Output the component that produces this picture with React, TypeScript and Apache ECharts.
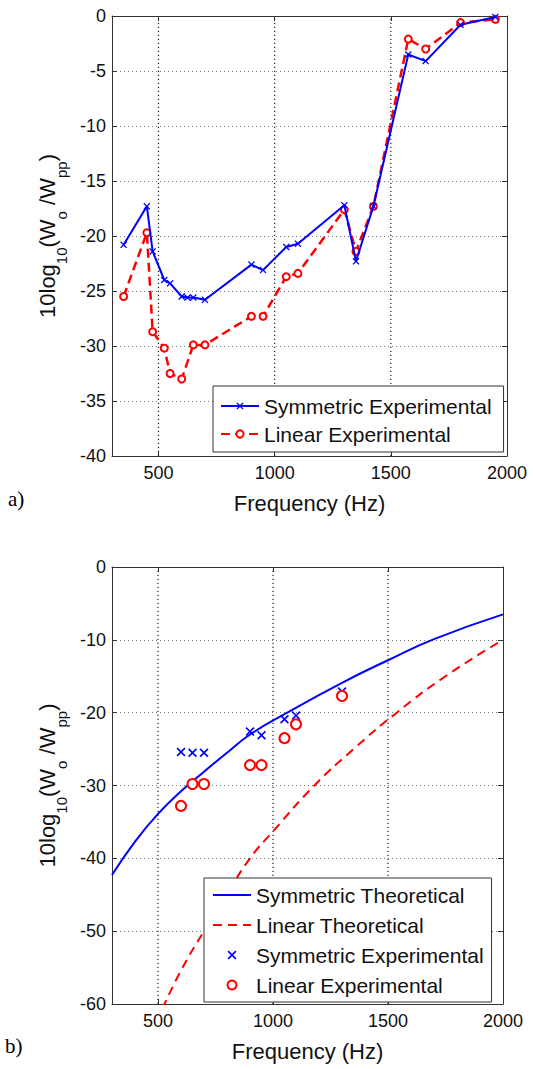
import React, { useEffect, useRef } from "react";
import * as echarts from "echarts";

// ---------- data ----------
const xTicks = [500, 1000, 1500, 2000];
const xGrid = [500, 1000, 1500];

// a) experimental curves
const topFreqSym = [350, 450, 475, 525, 550, 600, 625, 650, 700, 900, 950, 1050, 1100, 1300, 1350, 1425, 1575, 1650, 1800, 1950];
const topSym = [-20.8, -17.3, -21.4, -24.0, -24.3, -25.5, -25.6, -25.6, -25.8, -22.6, -23.1, -21.0, -20.7, -17.2, -22.3, -17.3, -3.5, -4.1, -0.8, -0.1];
const topFreqLin = [350, 450, 475, 525, 550, 600, 650, 700, 900, 950, 1050, 1100, 1300, 1350, 1425, 1575, 1650, 1800, 1950];
const topLin = [-25.5, -19.7, -28.7, -30.2, -32.5, -33.0, -29.9, -29.9, -27.3, -27.3, -23.7, -23.4, -17.6, -21.4, -17.3, -2.1, -3.0, -0.6, -0.3];

// b) theory vs experiment
const expFreq = [600, 650, 700, 900, 950, 1050, 1100, 1300];
const symExp = [-25.4, -25.5, -25.5, -22.6, -23.1, -20.9, -20.4, -17.1];
const linExp = [-32.8, -29.8, -29.8, -27.2, -27.2, -23.5, -21.6, -17.7];
const symTheoFreq = [300, 400, 500, 600, 700, 800, 900, 1050, 1300, 1500, 1700, 2000];
const symTheo = [-42.3, -37.7, -33.9, -30.8, -28.1, -25.5, -23.0, -20.2, -15.9, -12.8, -9.9, -6.5];
const linTheoFreq = [520, 600, 700, 800, 900, 1000, 1180, 1350, 1538, 1750, 2000];
const linTheo = [-60.6, -55.4, -50.0, -44.9, -40.0, -36.3, -30.0, -25.0, -20.0, -15.0, -10.0];

// ---------- styles ----------
const FONT = '"Liberation Sans", Arial, Helvetica, sans-serif';
const BLUE = "#0000ff";
const RED = "#ff0000";
const X_CROSS =
  "path://M0,1.3L1.3,0L5,3.7L8.7,0L10,1.3L6.3,5L10,8.7L8.7,10L5,6.3L1.3,10L0,8.7L3.7,5Z";
const axisLineStyle = { color: "#333", width: 1 };
const gridLineStyle = { color: "#777", width: 1, type: [1, 3] };
const vGridLineStyle = { color: "#222", width: 1.2, type: [1.2, 2.8] };
const gridLine = { show: true, lineStyle: gridLineStyle };
const tickLabel = { fontSize: 18, color: "#111", fontFamily: FONT };

const zip = (xs: number[], ys: number[]) => xs.map((x, i) => [x, ys[i]]);

const yName = "{m|10log}{s|10}{m|(W}{s|o}{m| /W}{s|pp}{m|)}";
const yNameStyle = {
  color: "#111",
  fontFamily: FONT,
  rich: {
    m: { fontSize: 22, lineHeight: 22, verticalAlign: "top", fontFamily: FONT, color: "#111" },
    s: { fontSize: 15, lineHeight: 33, verticalAlign: "bottom", fontFamily: FONT, color: "#111" },
  },
};

function axes(yMin: number, yInterval: number) {
  return {
    xAxis: [
      {
        type: "value",
        min: 300,
        max: 2000,
        position: "bottom",
        axisLine: { show: true, onZero: false, lineStyle: axisLineStyle },
        axisTick: { show: true, inside: true, length: 5, customValues: xTicks, lineStyle: axisLineStyle },
        axisLabel: { customValues: xTicks, margin: 8, formatter: (v: number) => String(v), ...tickLabel },
        splitLine: { show: false },
        name: "Frequency (Hz)",
        nameLocation: "middle",
        nameGap: 36,
        nameTextStyle: { fontSize: 22, color: "#111", fontFamily: FONT },
      },
      {
        type: "value",
        min: 300,
        max: 2000,
        position: "top",
        axisLine: { show: true, onZero: false, lineStyle: axisLineStyle },
        axisTick: { show: true, inside: true, length: 5, customValues: xTicks, lineStyle: axisLineStyle },
        axisLabel: { show: false },
        splitLine: { show: false },
      },
    ],
    yAxis: [
      {
        type: "value",
        min: yMin,
        max: 0,
        interval: yInterval,
        position: "left",
        axisLine: { show: true, onZero: false, lineStyle: axisLineStyle },
        axisTick: { show: true, inside: true, length: 5, lineStyle: axisLineStyle },
        axisLabel: { margin: 6, ...tickLabel },
        splitLine: gridLine,
        name: yName,
        nameLocation: "middle",
        nameGap: 42,
        nameTextStyle: yNameStyle,
      },
      {
        type: "value",
        min: yMin,
        max: 0,
        interval: yInterval,
        position: "right",
        axisLine: { show: true, onZero: false, lineStyle: axisLineStyle },
        axisTick: { show: true, inside: true, length: 5, lineStyle: axisLineStyle },
        axisLabel: { show: false },
        splitLine: { show: false },
      },
    ],
  };
}

// vertical dotted grid lines at the labelled frequencies, drawn through the axes' scales
function gridSeries(yMin: number) {
  return xGrid.map((v) => ({
    type: "line",
    name: "grid" + v,
    data: [
      [v, yMin],
      [v, 0],
    ],
    silent: true,
    symbol: "none",
    clip: false,
    z: 1,
    lineStyle: vGridLineStyle,
    itemStyle: { color: "#222" },
  }));
}

const legendBase = {
  orient: "vertical",
  itemWidth: 38,
  itemHeight: 9,
  borderColor: "#333",
  borderWidth: 1,
  borderRadius: 0,
  backgroundColor: "#fff",
  selectedMode: false,
  textStyle: { fontSize: 21, lineHeight: 22, color: "#111", fontFamily: FONT },
};

const topOption = {
  animation: false,
  backgroundColor: "#fff",
  grid: { left: 112, top: 16, width: 395, height: 440 },
  ...axes(-40, 5),
  legend: {
    ...legendBase,
    left: 213,
    top: 386,
    padding: [9, 12, 7, 7],
    itemGap: 6,
    data: ["Symmetric Experimental", "Linear Experimental"],
  },
  series: [
    ...gridSeries(-40),
    {
      type: "line",
      name: "Symmetric Experimental",
      data: zip(topFreqSym, topSym),
      symbol: X_CROSS,
      symbolSize: 7,
      showAllSymbol: true,
      lineStyle: { color: BLUE, width: 2 },
      itemStyle: { color: BLUE },
      z: 3,
    },
    {
      type: "line",
      name: "Linear Experimental",
      data: zip(topFreqLin, topLin),
      symbol: "emptyCircle",
      symbolSize: 7,
      showAllSymbol: true,
      lineStyle: { color: RED, width: 2.5, type: [9, 5] },
      itemStyle: { color: RED, borderColor: RED, borderWidth: 1.5 },
      z: 2,
    },
  ],
  graphic: [
    {
      type: "text",
      left: 8,
      top: 488,
      style: { text: "a)", font: '21px "Liberation Serif", "Times New Roman", serif', fill: "#000" },
    },
  ],
};

const bottomOption = {
  animation: false,
  backgroundColor: "#fff",
  grid: { left: 112, top: 37, width: 391, height: 437 },
  ...axes(-60, 10),
  legend: {
    ...legendBase,
    left: 204,
    top: 348,
    padding: [6, 8, 6, 8],
    itemGap: 8,
    data: [
      { name: "Symmetric Theoretical", itemStyle: { opacity: 0 } },
      { name: "Linear Theoretical", itemStyle: { opacity: 0 } },
      "Symmetric Experimental",
      "Linear Experimental",
    ],
  },
  series: [
    ...gridSeries(-60),
    {
      type: "line",
      name: "Symmetric Theoretical",
      data: zip(symTheoFreq, symTheo),
      smooth: true,
      symbol: "none",
      lineStyle: { color: BLUE, width: 2 },
      itemStyle: { color: BLUE },
      z: 3,
    },
    {
      type: "line",
      name: "Linear Theoretical",
      data: zip(linTheoFreq, linTheo),
      smooth: true,
      symbol: "none",
      lineStyle: { color: RED, width: 2, type: [9, 6] },
      itemStyle: { color: RED },
      z: 3,
    },
    {
      type: "scatter",
      name: "Symmetric Experimental",
      data: zip(expFreq, symExp),
      symbol: X_CROSS,
      symbolSize: 9,
      itemStyle: { color: BLUE, opacity: 1 },
      z: 4,
    },
    {
      type: "scatter",
      name: "Linear Experimental",
      data: zip(expFreq, linExp),
      symbol: "emptyCircle",
      symbolSize: 10,
      itemStyle: { color: RED, borderColor: RED, borderWidth: 1.5, opacity: 1 },
      z: 4,
    },
  ],
  graphic: [
    {
      type: "text",
      left: 5,
      top: 505,
      style: { text: "b)", font: '21px "Liberation Serif", "Times New Roman", serif', fill: "#000" },
    },
  ],
};

function Chart({ option, height, top }: { option: any; height: number; top: number }) {
  const ref = useRef<HTMLDivElement>(null);
  useEffect(() => {
    if (!ref.current) return;
    const chart = echarts.init(ref.current, null, { renderer: "svg" });
    chart.setOption(option);
    return () => chart.dispose();
  }, [option]);
  return <div ref={ref} style={{ position: "absolute", left: 0, top, width: 533, height }} />;
}

export default function App() {
  return (
    <div style={{ position: "absolute", left: 0, top: 0, width: 533, height: 1069, background: "#fff" }}>
      <Chart option={topOption} top={0} height={530} />
      <Chart option={bottomOption} top={530} height={539} />
    </div>
  );
}
